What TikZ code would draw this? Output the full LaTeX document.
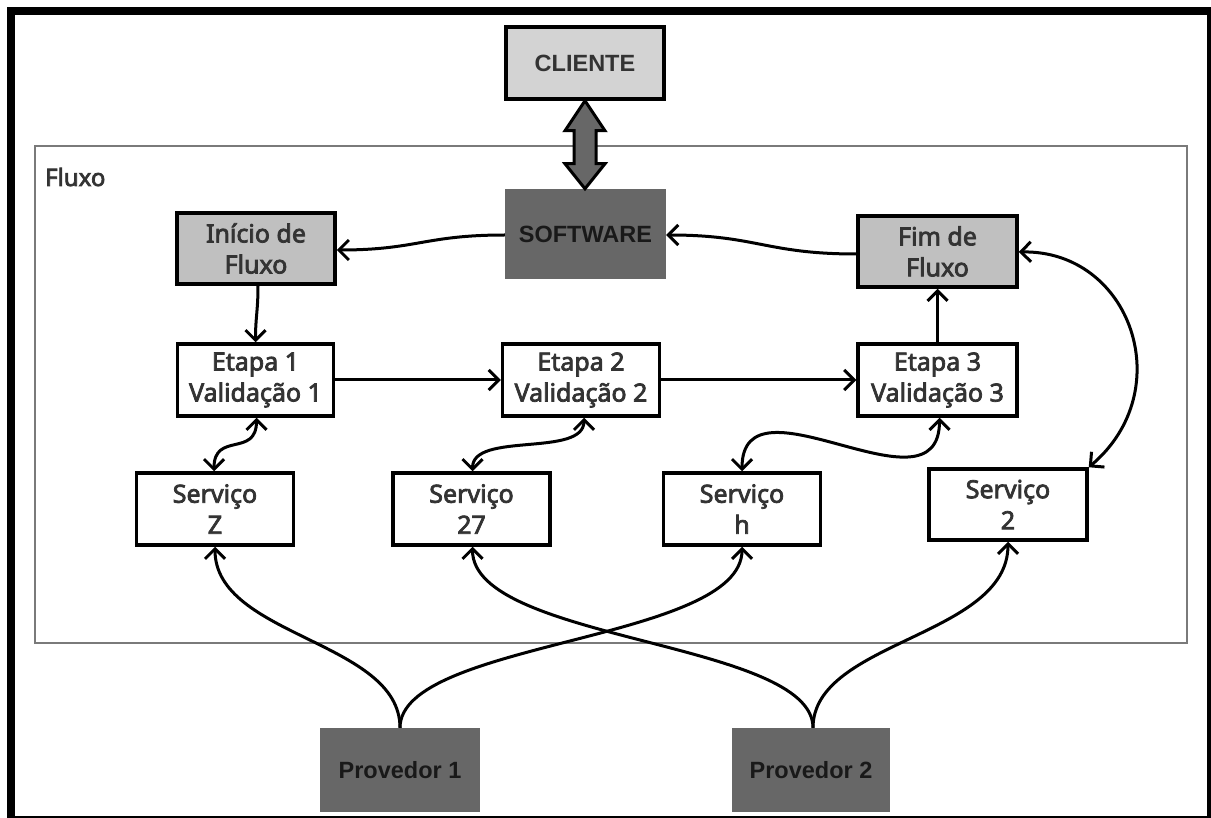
\documentclass[tikz,border=0pt]{standalone}
\usepackage{fontspec}
\setmainfont{Liberation Sans}
\newfontfamily\boxfont{Noto Sans}[FakeBold=3]
\usetikzlibrary{arrows.meta,calc}
\definecolor{dark}{HTML}{676767}
\definecolor{lgray}{HTML}{D3D3D3}
\definecolor{mgray}{HTML}{C0C0C0}
\definecolor{txt}{HTML}{333333}
\definecolor{frame}{HTML}{7A7A7A}
\begin{document}
\begin{tikzpicture}[x=1pt,y=-1pt,
  whitebox/.style={draw=black,line width=3.5pt,fill=white,inner sep=0pt,align=center,
    text=txt,font=\boxfont\fontsize{25}{31}\selectfont,minimum height=72pt},
  graybox/.style={whitebox,fill=mgray},
  darkbox/.style={fill=dark,inner sep=0pt,text=black!90,
    font=\bfseries\fontsize{23.5}{28}\selectfont},
  conn/.style={line width=3pt,draw=black},
  tip/.style={-{Straight Barb[length=10pt,width=20pt]}},
  dtip/.style={{Straight Barb[length=10pt,width=20pt]}-{Straight Barb[length=10pt,width=20pt]}}
]
\useasboundingbox (0,0) rectangle (1211,818);
\fill[white] (0,0) rectangle (1211,818);
\draw[line width=8pt] (11,11) rectangle (1211,820);

% container
\node[draw=frame,line width=1.5pt,minimum width=1152pt,minimum height=497pt,inner sep=0pt] (cont) at (611,394.5) {};
\node[anchor=base west,inner sep=0pt,text=txt,font=\boxfont\fontsize{24}{28}\selectfont] (flx) at (45,186) {Fluxo};

% nodes
\node[whitebox,fill=lgray,minimum width=158pt,font=\bfseries\fontsize{23.5}{28}\selectfont] (cli) at (585,63) {CLIENTE};
\node[darkbox,minimum width=161pt,minimum height=90pt] (sw) at (585.5,234) {SOFTWARE};
\node[graybox,minimum width=158pt,minimum height=71pt] (ini) at (256,248.5) {Início de\\Fluxo};
\node[graybox,minimum width=159pt,minimum height=71pt] (fim) at (937.5,251.5) {Fim de\\Fluxo};
\node[whitebox,minimum width=156pt] (e1) at (255.5,380) {Etapa 1\\Validação 1};
\node[whitebox,minimum width=157pt] (e2) at (581,380) {Etapa 2\\Validação 2};
\node[whitebox,minimum width=159pt] (e3) at (937.5,380) {Etapa 3\\Validação 3};
\node[whitebox,minimum width=157pt] (sz) at (215,509) {Serviço\\Z};
\node[whitebox,minimum width=157pt] (s27) at (471.5,509) {Serviço\\27};
\node[whitebox,minimum width=157pt] (sh) at (742,509) {Serviço\\h};
\node[whitebox,minimum width=158pt,minimum height=71pt] (s2) at (1008,504.5) {Serviço\\2};
\node[darkbox,minimum width=160pt,minimum height=84pt] (p1) at (400,770) {Provedor 1};
\node[darkbox,minimum width=158pt,minimum height=84pt] (p2) at (811,770) {Provedor 2};

% double block arrow CLIENTE <-> SOFTWARE
\draw[line width=3pt,fill=dark,line join=miter]
  (cli.south) -- ++(20,30) -- ++(-9,0) -- ++(0,33) -- ++(9,0) -- ++(-20,25)
  -- ++(-20,-25) -- ++(9,0) -- ++(0,-33) -- ++(-9,0) -- cycle;

% connectors
\draw[conn,tip] ($(sw.west)+(0,1)$) .. controls +(-80,0) and +(80,0) .. ($(ini.east)+(0,1.5)$);
\draw[conn,tip] ($(fim.west)+(0,2.5)$) .. controls +(-90,0) and +(90,0) .. ($(sw.east)+(0,1)$);
\draw[conn,tip] ($(ini.south)+(2,0)$) .. controls +(0,25) and +(0,-25) .. (e1.north);
\draw[conn,tip] (e1.east) -- (e2.west);
\draw[conn,tip] (e2.east) -- (e3.west);
\draw[conn,tip] (e3.north) -- (fim.south);
\draw[conn,dtip] ($(e1.south)+(1,0)$) .. controls +(0,40) and +(0,-40) .. ($(sz.north)+(-1,0)$);
\draw[conn,dtip] ($(e2.south)+(3,0)$) .. controls +(0,40) and +(0,-40) .. ($(s27.north)+(1,0)$);
\draw[conn,dtip] ($(e3.south)+(2,0)$) .. controls +(0,104) and +(0,-103) .. (sh.north);
\draw[conn,dtip] ($(fim.east)+(0,0.5)$) .. controls +(112,-2) and +(91,-77) .. (s2.north east);
\draw[conn,tip] (p1.north) .. controls +(0,-87) and +(0,90) .. (sz.south);
\draw[conn,tip] (p1.north) .. controls +(0,-87) and +(0,95) .. (sh.south);
\draw[conn,tip] ($(p2.north)+(2,0)$) .. controls +(0,-87) and +(0,95) .. ($(s27.south)+(1,0)$);
\draw[conn,tip] ($(p2.north)+(2,0)$) .. controls +(0,-87) and +(0,95) .. (s2.south);
\end{tikzpicture}
\end{document}
